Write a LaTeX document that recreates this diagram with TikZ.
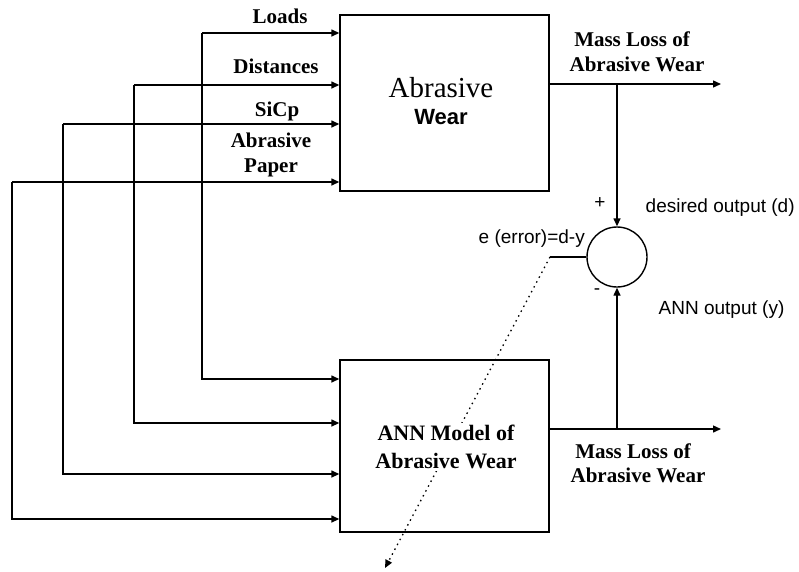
\documentclass[tikz,border=0pt]{standalone}
\usepackage{fontspec}
\setmainfont{Liberation Serif}
\newfontfamily\arialf{Liberation Sans}
\usetikzlibrary{arrows.meta}
\begin{document}
\begin{tikzpicture}[x=1pt,y=-1pt,
  line width=1.4pt,
  arr/.style={-{Triangle[length=8pt,width=7pt]}},
  blk/.style={draw,minimum width=209pt,minimum height=176pt,inner sep=0pt},
  lbl/.style={font=\fontsize{21}{24}\selectfont\bfseries,anchor=base,inner sep=0pt},
  slbl/.style={font=\arialf\fontsize{19}{22}\selectfont,anchor=base west,inner sep=0pt}]
\useasboundingbox (0,0) rectangle (799,571);
% blocks
\node[blk] (top) at (444.5,103) {};
\node[blk,minimum height=172pt] (ann) at (444.5,446) {};
\node[font=\fontsize{29}{30}\selectfont,anchor=base,inner sep=0pt] (tA) at (441,97) {Abrasive};
\node[font=\arialf\fontsize{22}{24}\selectfont\bfseries,anchor=base,inner sep=0pt] (tW) at (441,124) {Wear};
% summing junction
\node[draw,circle,minimum size=60pt,inner sep=0pt] (sum) at (617,257) {};
% input lines
\coordinate (a1) at (202,33);  \coordinate (b1) at (202,379);
\coordinate (a2) at (134,85);  \coordinate (b2) at (134,423);
\coordinate (a3) at (63,124);  \coordinate (b3) at (63,474);
\coordinate (a4) at (12,182);  \coordinate (b4) at (12,519);
\foreach \i in {1,2,3,4}{
  \draw[arr] (a\i) -- (a\i -| top.west);
  \draw[arr] (a\i) -- (b\i) -- (b\i -| ann.west);
}
% outputs
\coordinate (o1) at (721,84);  \coordinate (br1) at (617,84);
\coordinate (o2) at (721,429); \coordinate (br2) at (617,429);
\draw[arr] (top.east |- o1) -- (o1);
\draw[arr] (ann.east |- o2) -- (o2);
\draw[arr] (br1) -- (sum.north);
\draw[arr] (br2) -- (sum.south);
% error
\coordinate (e1) at (550,257);
\coordinate (etip) at (385,568);
\draw (sum.west) -- (e1);
\draw[line width=1.3pt,dash pattern=on 1.5pt off 4pt,arr] (e1) -- (etip);
\node[fill=white,align=center,font=\fontsize{22}{28}\selectfont\bfseries,inner sep=2pt] (annt) at (446,447) {ANN Model of\\Abrasive Wear};
% labels
\node[lbl] (l1) at (280,23) {Loads};
\node[lbl] (l2) at (276,73) {Distances};
\node[lbl] (l3) at (277,116) {SiCp};
\node[lbl] (l4) at (271,147) {Abrasive};
\node[lbl] (l5) at (271,172) {Paper};
\node[lbl] (m1) at (632,46) {Mass Loss of};
\node[lbl] (m2) at (637,71) {Abrasive Wear};
\node[lbl] (m3) at (633,458) {Mass Loss of};
\node[lbl] (m4) at (638,482) {Abrasive Wear};
\node[slbl] (d) at (645,212) {desired output (d)};
\node[slbl] (e) at (478,243) {e (error)=d-y};
\node[slbl] (y) at (658,314) {ANN output (y)};
\node[font=\arialf\fontsize{19}{22}\selectfont,inner sep=0pt] (plus) at (600,203) {+};
\node[font=\arialf\fontsize{19}{22}\selectfont,inner sep=0pt] (minus) at (597,292) {-};
\end{tikzpicture}
\end{document}
